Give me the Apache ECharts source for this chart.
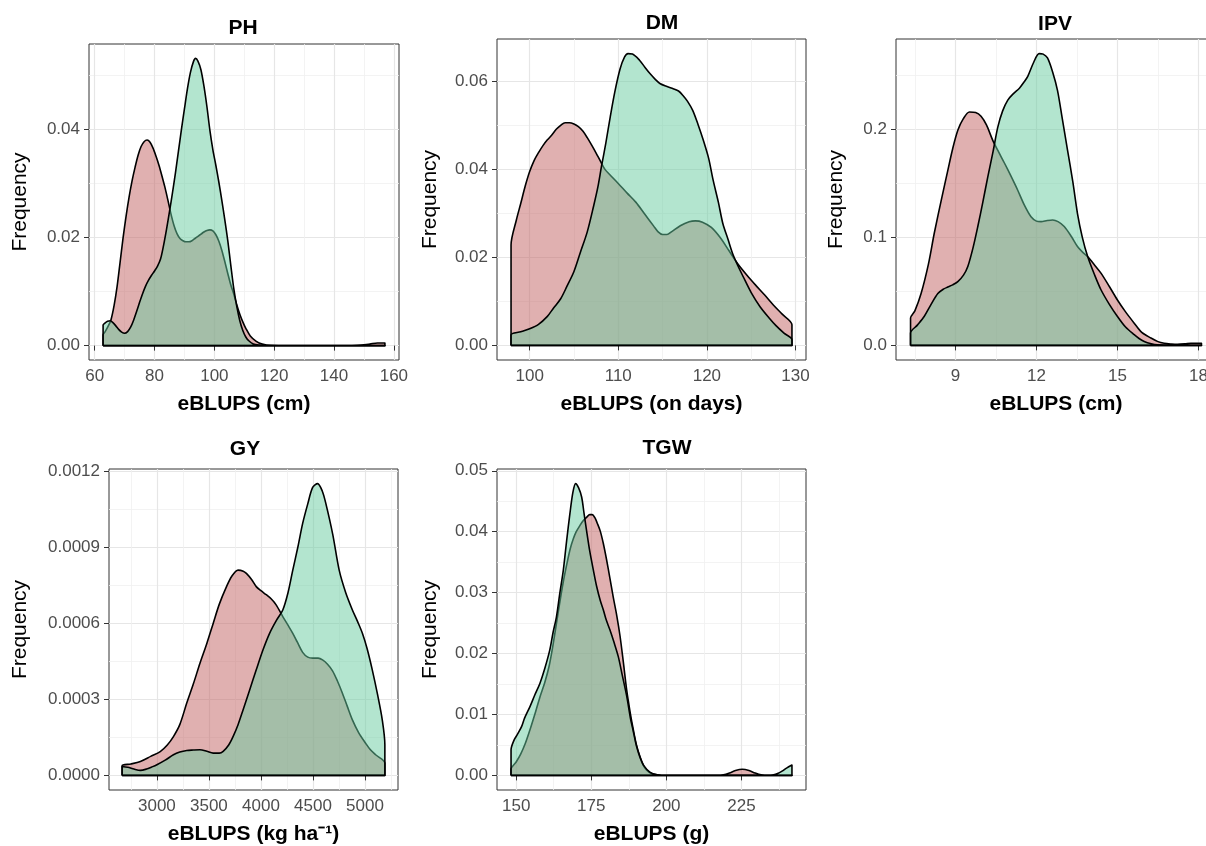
<!DOCTYPE html>
<html><head><meta charset="utf-8">
<script src="https://cdn.jsdelivr.net/npm/echarts@6/dist/echarts.min.js"></script>
<style>html,body{margin:0;padding:0;background:#fff}#c{width:1206px;height:846px}</style>
</head><body><div id="c"></div>
<script>
// ---------------- DATA ----------------
const panelNames = ['PH', 'DM', 'IPV', 'GY', 'TGW'];
const xTitles = ['eBLUPS (cm)', 'eBLUPS (on days)', 'eBLUPS (cm)', 'eBLUPS (kg ha\u207B\u00B9)', 'eBLUPS (g)'];
const yTitle = 'Frequency';

// density curves [x, density]; red group drawn first, green group on top
const PH_red = [[62.8,0.0020],[63.5,0.0026],[64.5,0.0036],[65.4,0.0047],[66.5,0.0075],[67.5,0.011],[68.5,0.0155],[69.5,0.020],[70.5,0.024],[71.5,0.0275],[72.5,0.0305],[73.5,0.033],[74.5,0.0352],[75.5,0.0368],[76.5,0.0377],[77.5,0.0380],[78.5,0.0376],[79.5,0.0365],[80.5,0.035],[81.5,0.0333],[82.5,0.0313],[83.5,0.0292],[84.5,0.0268],[85.5,0.0243],[86.5,0.0222],[87.5,0.0207],[88.5,0.0198],[89.5,0.0194],[90.5,0.0192],[91.5,0.0192],[92.5,0.0194],[93.5,0.0198],[94.5,0.0202],[95.5,0.0206],[96.5,0.021],[97.5,0.0213],[98.5,0.0214],[99.5,0.0212],[100.5,0.0205],[101.5,0.0193],[102.5,0.0176],[103.5,0.0155],[104.5,0.0133],[105.5,0.0112],[106.5,0.0095],[107.5,0.0075],[108.5,0.0058],[109.5,0.0044],[110.5,0.0032],[112,0.0018],[114,0.0008],[116,0.0003],[119,0.00005],[125,0],[140,0],[146,0.00003],[149,0.0001],[152,0.0003],[154.5,0.0005],[157,0.0005]];
const PH_green = [[62.8,0.0038],[63.5,0.0042],[64.3,0.0045],[65.2,0.0046],[66,0.0043],[67,0.0037],[68,0.003],[69,0.0025],[70,0.0023],[71,0.0026],[72,0.0034],[73,0.0047],[74,0.0063],[75,0.008],[76,0.0096],[77,0.011],[78,0.0121],[79,0.013],[80,0.0138],[81,0.0147],[82,0.016],[83,0.0185],[84,0.0215],[85,0.0248],[86,0.0283],[87,0.032],[88,0.036],[89,0.040],[90,0.0438],[91,0.0475],[92,0.0505],[93,0.0525],[93.7,0.0531],[94.5,0.0526],[95.5,0.051],[96.5,0.048],[97.5,0.0442],[98.5,0.0398],[99.5,0.0362],[100.5,0.0333],[101.5,0.0302],[102.5,0.0268],[103.5,0.0232],[104.5,0.0193],[105.5,0.0148],[106.5,0.0105],[107.5,0.0072],[108.5,0.0046],[109.5,0.0028],[110.5,0.0016],[111.5,0.0009],[113,0.0003],[115,0.0001],[118,0],[157,0]];

const DM_red = [[97.9,0.0228],[98.5,0.0285],[99,0.0323],[99.5,0.0362],[100,0.0395],[100.5,0.042],[101,0.0438],[101.5,0.0454],[102,0.0467],[102.5,0.0478],[103,0.0491],[103.5,0.0500],[104,0.0506],[104.5,0.0506],[105,0.0503],[105.5,0.0497],[106,0.0487],[106.5,0.0472],[107,0.0455],[107.5,0.0437],[108,0.0418],[108.5,0.040],[109,0.0389],[110,0.0368],[111,0.0346],[112,0.0325],[113,0.0298],[114,0.0271],[114.5,0.0258],[115,0.0252],[115.5,0.0252],[116,0.0258],[117,0.0272],[118,0.0281],[118.7,0.0283],[119.5,0.028],[120.5,0.0268],[121.5,0.0245],[122.5,0.0215],[123.5,0.0185],[124.5,0.016],[125.5,0.0137],[126.5,0.0115],[127.5,0.0092],[128.5,0.0071],[129.6,0.0047]];
const DM_green = [[97.9,0.0024],[99,0.0031],[100,0.0038],[101,0.0048],[102,0.0066],[102.7,0.0085],[103.5,0.0106],[104.2,0.0134],[105,0.0168],[105.7,0.021],[106.5,0.0258],[107.2,0.0315],[107.7,0.036],[108.1,0.0406],[108.6,0.046],[109.1,0.052],[109.6,0.0575],[110.2,0.0628],[110.7,0.0655],[111.1,0.0663],[111.6,0.0662],[112.4,0.0648],[113,0.0632],[113.6,0.0617],[114.2,0.0604],[114.7,0.0595],[115.5,0.0588],[116.2,0.0583],[116.8,0.0578],[117.3,0.0568],[117.8,0.0555],[118.4,0.0534],[119,0.0502],[119.6,0.0466],[120.2,0.0425],[120.7,0.0376],[121.3,0.0325],[121.8,0.0277],[122.4,0.0240],[122.9,0.0209],[123.5,0.0181],[124.1,0.0156],[125,0.012],[126,0.0088],[127,0.0063],[127.8,0.0045],[128.7,0.0028],[129.6,0.0013]];

const IPV_red = [[7.34,0.0253],[7.5,0.032],[7.73,0.048],[8,0.075],[8.22,0.104],[8.5,0.137],[8.72,0.162],[8.9,0.182],[9.09,0.199],[9.3,0.21],[9.52,0.216],[9.75,0.2155],[9.95,0.212],[10.15,0.204],[10.38,0.19],[10.6,0.179],[10.81,0.169],[11.05,0.157],[11.3,0.144],[11.55,0.13],[11.8,0.119],[12,0.115],[12.17,0.1145],[12.4,0.1155],[12.6,0.116],[12.8,0.1145],[13.03,0.11],[13.3,0.1005],[13.52,0.0915],[13.7,0.0865],[13.9,0.082],[14.15,0.0745],[14.39,0.0669],[14.7,0.0545],[15,0.042],[15.3,0.031],[15.62,0.0206],[15.9,0.012],[16.24,0.0068],[16.5,0.0035],[16.73,0.002],[17,0.0013],[17.22,0.001],[17.5,0.0014],[17.72,0.002],[18.11,0.002]];
const IPV_green = [[7.34,0.0114],[7.6,0.019],[7.85,0.027],[8.1,0.038],[8.35,0.048],[8.55,0.052],[8.72,0.054],[8.9,0.056],[9.09,0.059],[9.3,0.065],[9.46,0.073],[9.65,0.09],[9.83,0.11],[10.02,0.133],[10.2,0.156],[10.4,0.18],[10.57,0.202],[10.75,0.217],[10.94,0.227],[11.15,0.233],[11.37,0.238],[11.55,0.244],[11.68,0.249],[11.9,0.262],[12.1,0.270],[12.25,0.2695],[12.41,0.266],[12.6,0.253],[12.78,0.236],[12.95,0.211],[13.15,0.181],[13.35,0.151],[13.52,0.122],[13.7,0.1],[13.9,0.082],[14.15,0.0655],[14.39,0.0515],[14.7,0.038],[15,0.0268],[15.3,0.017],[15.62,0.0099],[15.8,0.0064],[15.99,0.0037],[16.25,0.0016],[16.48,0.0006],[17,0.0001],[18.11,0]];

const GY_red = [[2666,0.000038],[2750,0.000045],[2841,0.000055],[2940,0.000075],[3032,0.000094],[3100,0.00012],[3159,0.000153],[3220,0.0002],[3287,0.000285],[3350,0.00036],[3414,0.000442],[3480,0.00052],[3541,0.000599],[3600,0.000675],[3669,0.000744],[3720,0.000785],[3780,0.000809],[3830,0.000805],[3860,0.000796],[3910,0.000772],[3955,0.000744],[4000,0.000728],[4051,0.000712],[4100,0.000695],[4146,0.000672],[4210,0.000626],[4260,0.000592],[4306,0.00056],[4350,0.000525],[4401,0.000485],[4450,0.000466],[4497,0.000462],[4550,0.000462],[4592,0.000455],[4640,0.000438],[4688,0.000412],[4735,0.000372],[4783,0.000324],[4830,0.000272],[4879,0.000219],[4940,0.000168],[5006,0.000127],[5050,0.000102],[5102,0.0000813],[5191,0.0000485]];
const GY_green = [[2666,0.000035],[2720,0.000032],[2780,0.000025],[2841,0.00002],[2900,0.000025],[2950,0.000033],[3000,0.000042],[3080,0.00006],[3159,0.0000813],[3220,0.000092],[3287,0.0000984],[3350,0.0001],[3414,0.000101],[3480,0.000095],[3541,0.000088],[3600,0.000088],[3637,0.000095],[3690,0.00012],[3732,0.000153],[3780,0.0002],[3828,0.000258],[3890,0.000335],[3955,0.000416],[4020,0.000495],[4083,0.00056],[4150,0.000612],[4210,0.000652],[4260,0.00072],[4306,0.000809],[4355,0.0009],[4401,0.000993],[4450,0.00107],[4497,0.001135],[4545,0.00115],[4590,0.00112],[4624,0.001071],[4690,0.00095],[4752,0.000809],[4815,0.00072],[4879,0.000652],[4930,0.000605],[4975,0.00056],[5020,0.0005],[5070,0.000416],[5120,0.00032],[5166,0.000219],[5191,0.000121]];

const TGW_red = [[148.3,0.001],[150,0.0022],[151.5,0.0035],[153,0.0052],[154.6,0.0075],[156.5,0.0105],[158,0.013],[159.5,0.0152],[161,0.018],[162.3,0.0215],[164,0.0268],[165.7,0.0318],[167,0.035],[168,0.0372],[169,0.0388],[170,0.0400],[171.2,0.041],[172.3,0.0418],[173.5,0.0424],[174.5,0.0428],[175.3,0.0428],[176.2,0.0423],[177,0.0414],[178,0.0401],[179,0.0381],[180.1,0.0354],[181.2,0.0324],[182.3,0.0293],[183.5,0.0262],[184.6,0.0228],[185.7,0.0185],[186.8,0.014],[188,0.0102],[189,0.0075],[190,0.0051],[191.2,0.0031],[192.3,0.0017],[193.4,0.0009],[195,0.0003],[196.8,0.0001],[200,0],[217,0],[219,0.0001],[221,0.0004],[223,0.0008],[225.3,0.001],[227.5,0.0008],[229.5,0.0004],[231.5,0.0001],[234,0],[241.8,0]];
const TGW_green = [[148.3,0.0042],[149.3,0.0058],[150.5,0.0068],[151.8,0.008],[152.8,0.0094],[154.6,0.0113],[156.2,0.0132],[157.9,0.0151],[159.5,0.0175],[161.2,0.0206],[162.3,0.0235],[163.4,0.026],[164.5,0.0298],[165.7,0.0337],[166.8,0.0385],[167.9,0.043],[168.9,0.0465],[169.8,0.0479],[170.8,0.0472],[171.8,0.0457],[172.6,0.043],[173.4,0.0403],[174.5,0.0368],[175.7,0.0337],[176.8,0.031],[178,0.0287],[179,0.0272],[180,0.0255],[181.2,0.0239],[182.6,0.0218],[184,0.0195],[185.3,0.0165],[186.8,0.013],[188,0.0095],[189,0.0072],[190,0.0049],[191.2,0.003],[192.5,0.0016],[194.6,0.0005],[197,0.0001],[200,0],[234,0],[235.7,0.0001],[237,0.0003],[238.5,0.0007],[240,0.0012],[241.8,0.0017]];

// tick values (major -> labelled, minor -> grid only)
const PH_xMajor = [60,80,100,120,140,160], PH_xMinor = [70,90,110,130,150];
const PH_yMajor = [0,0.02,0.04], PH_yMinor = [0.01,0.03,0.05];
const DM_xMajor = [100,110,120,130], DM_xMinor = [105,115,125];
const DM_yMajor = [0,0.02,0.04,0.06], DM_yMinor = [0.01,0.03,0.05];
const IPV_xMajor = [9,12,15,18], IPV_xMinor = [7.5,10.5,13.5,16.5];
const IPV_yMajor = [0,0.1,0.2], IPV_yMinor = [0.05,0.15,0.25];
const GY_xMajor = [3000,3500,4000,4500,5000], GY_xMinor = [2750,3250,3750,4250,4750,5250];
const GY_yMajor = [0,0.0003,0.0006,0.0009,0.0012], GY_yMinor = [0.00015,0.00045,0.00075,0.00105];
const TGW_xMajor = [150,175,200,225], TGW_xMinor = [162.5,187.5,212.5,237.5];
const TGW_yMajor = [0,0.01,0.02,0.03,0.04,0.05], TGW_yMinor = [0.005,0.015,0.025,0.035,0.045];
const yDecimals = [2, 2, 1, 4, 2];

// ---------------- LAYOUT ----------------
const layout = [
  {rect:{left:89, top:44, width:310, height:316}, titleXY:[243,28], yGap:58},
  {rect:{left:497, top:39, width:309, height:321}, titleXY:[662,23], yGap:56},
  {rect:{left:896, top:39, width:320, height:321}, titleXY:[1055,24], yGap:49},
  {rect:{left:109, top:469, width:289, height:321}, titleXY:[245,449], yGap:78},
  {rect:{left:497, top:469, width:309, height:321}, titleXY:[667,448], yGap:56}
];
const curves = [[PH_red,PH_green],[DM_red,DM_green],[IPV_red,IPV_green],[GY_red,GY_green],[TGW_red,TGW_green]];
const ticks = [
  [PH_xMajor,PH_xMinor,PH_yMajor,PH_yMinor],
  [DM_xMajor,DM_xMinor,DM_yMajor,DM_yMinor],
  [IPV_xMajor,IPV_xMinor,IPV_yMajor,IPV_yMinor],
  [GY_xMajor,GY_xMinor,GY_yMajor,GY_yMinor],
  [TGW_xMajor,TGW_xMinor,TGW_yMajor,TGW_yMinor]
];

const FONT = 'Liberation Sans';
const RED_FILL = 'rgba(193,97,97,0.5)';
const GREEN_FILL = 'rgba(103,203,159,0.5)';

const grid = [], xAxis = [], yAxis = [], series = [], graphic = [];
panelNames.forEach((name, i) => {
  const L = layout[i];
  const [red, green] = curves[i];
  const [xMaj, xMin, yMaj, yMin] = ticks[i];
  const all = red.concat(green);
  const xs = all.map(d => d[0]), ys = all.map(d => d[1]);
  const xlo = Math.min(...xs), xhi = Math.max(...xs), xr = xhi - xlo;
  const yhi = Math.max(...ys);
  const xAxMin = xlo - 0.05 * xr, xAxMax = xhi + 0.05 * xr;
  const yAxMin = -0.05 * yhi, yAxMax = 1.05 * yhi;

  grid.push(Object.assign({show:true, borderColor:'#333333', borderWidth:1, backgroundColor:'rgba(0,0,0,0)',
    containLabel:false, outerBoundsMode:'none'}, L.rect));

  // minor grid axis
  xAxis.push({gridIndex:i, type:'value', position:'bottom', min:xAxMin, max:xAxMax,
    axisLine:{show:false}, axisTick:{show:false, customValues:xMin}, axisLabel:{show:false},
    splitLine:{show:true, lineStyle:{color:'#f0f0f0', width:0.8}}});
  // major axis (ticks, labels, major grid, title)
  xAxis.push({gridIndex:i, type:'value', position:'bottom', min:xAxMin, max:xAxMax,
    axisLine:{show:false},
    axisTick:{show:true, customValues:xMaj, length:5, lineStyle:{color:'#333333', width:1}},
    axisLabel:{show:true, customValues:xMaj, margin:8, color:'#4d4d4d', fontSize:17, fontFamily:FONT,
      formatter: v => String(v)},
    splitLine:{show:true, lineStyle:{color:'#e6e6e6', width:1.2}},
    name:xTitles[i], nameLocation:'middle', nameGap:34,
    nameTextStyle:{color:'#000', fontSize:21, fontWeight:'bold', fontFamily:FONT}});

  yAxis.push({gridIndex:i, type:'value', position:'left', min:yAxMin, max:yAxMax,
    axisLine:{show:false}, axisTick:{show:false, customValues:yMin}, axisLabel:{show:false},
    splitLine:{show:true, lineStyle:{color:'#f0f0f0', width:0.8}}});
  yAxis.push({gridIndex:i, type:'value', position:'left', min:yAxMin, max:yAxMax,
    axisLine:{show:false},
    axisTick:{show:true, customValues:yMaj, length:5, lineStyle:{color:'#333333', width:1}},
    axisLabel:{show:true, customValues:yMaj, margin:9, color:'#4d4d4d', fontSize:17, fontFamily:FONT,
      formatter: v => Number(v).toFixed(yDecimals[i])},
    splitLine:{show:true, lineStyle:{color:'#e6e6e6', width:1.2}},
    name:yTitle, nameLocation:'middle', nameGap:L.yGap,
    nameTextStyle:{color:'#000', fontSize:21, fontFamily:FONT}});

  const close = pts => [[pts[0][0], 0]].concat(pts, [[pts[pts.length-1][0], 0], [pts[0][0], 0]]);
  [[red, RED_FILL, 2], [green, GREEN_FILL, 3]].forEach(([pts, fill, z]) => {
    series.push({type:'line', xAxisIndex:2*i, yAxisIndex:2*i, data:close(pts), z:z,
      symbol:'none', smooth:0.3, animation:false, silent:true,
      lineStyle:{color:'#000', width:1.6, join:'round'},
      areaStyle:{color:fill, opacity:1}});
  });

  graphic.push({type:'text', x:L.titleXY[0], y:L.titleXY[1], silent:true,
    style:{text:name, fill:'#000', font:'bold 21px "' + FONT + '"', textAlign:'center', textVerticalAlign:'middle'}});
});

const chart = echarts.init(document.getElementById('c'), null, {renderer:'canvas'});
chart.setOption({animation:false, backgroundColor:'#fff', grid, xAxis, yAxis, series, graphic});
</script></body></html>
